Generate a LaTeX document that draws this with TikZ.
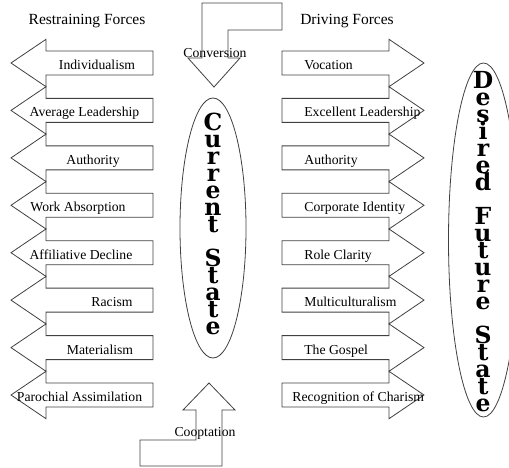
\documentclass[tikz,border=0pt]{standalone}
\usepackage{fontspec}
\setmainfont{Liberation Serif}
\newfontfamily\slabfont{DejaVu Serif}
\setlength{\lineskiplimit}{-30pt}

\tikzset{every picture/.style={line width=0.75pt}}
\tikzset{
  blockarrow/.style={draw=black!75, line width=0.8pt},
  forcelabel/.style={inner sep=0pt, font=\fontsize{13.7}{16}\selectfont},
  headlabel/.style={inner sep=0pt, font=\fontsize{15.5}{18}\selectfont},
  statetext/.style={inner sep=0pt, align=center,
    font=\slabfont\bfseries\fontsize{23.5}{17}\selectfont}
}

\begin{document}
\begin{tikzpicture}[x=1pt,y=1pt,yscale=-1]
    \useasboundingbox (0,0) rectangle (509,468);

    %Shape: Left Arrow (Individualism)
    \draw [blockarrow] (153,51) -- (46,51) -- (46,39.3) -- (11,63) -- (46,86.7) -- (46,75) -- (153,75) -- cycle ;
    %Shape: Left Arrow (Average Leadership)
    \draw [blockarrow] (153,98.4) -- (46,98.4) -- (46,86.7) -- (11,110.4) -- (46,134.1) -- (46,122.4) -- (153,122.4) -- cycle ;
    %Shape: Left Arrow (Authority)
    \draw [blockarrow] (153,145.9) -- (46,145.9) -- (46,134.1) -- (11,157.9) -- (46,181.6) -- (46,169.9) -- (153,169.9) -- cycle ;
    %Shape: Left Arrow (Work Absorption)
    \draw [blockarrow] (153,193.3) -- (46,193.3) -- (46,181.6) -- (11,205.3) -- (46,229) -- (46,217.3) -- (153,217.3) -- cycle ;
    %Shape: Left Arrow (Affiliative Decline)
    \draw [blockarrow] (153,240.7) -- (46,240.7) -- (46,229) -- (11,252.7) -- (46,276.4) -- (46,264.7) -- (153,264.7) -- cycle ;
    %Shape: Left Arrow (Racism)
    \draw [blockarrow] (153,288.1) -- (46,288.1) -- (46,276.4) -- (11,300.1) -- (46,323.9) -- (46,312.1) -- (153,312.1) -- cycle ;
    %Shape: Left Arrow (Materialism)
    \draw [blockarrow] (153,335.6) -- (46,335.6) -- (46,323.9) -- (11,347.6) -- (46,371.3) -- (46,359.6) -- (153,359.6) -- cycle ;
    %Shape: Left Arrow (Parochial Assimilation)
    \draw [blockarrow] (153,383) -- (46,383) -- (46,371.3) -- (11,395) -- (46,418.7) -- (46,407) -- (153,407) -- cycle ;

    %Shape: Right Arrow (Vocation)
    \draw [blockarrow] (282,51) -- (389,51) -- (389,39.3) -- (424,63) -- (389,86.7) -- (389,75) -- (282,75) -- cycle ;
    %Shape: Right Arrow (Excellent Leadership)
    \draw [blockarrow] (282,98.4) -- (389,98.4) -- (389,86.7) -- (424,110.4) -- (389,134.1) -- (389,122.4) -- (282,122.4) -- cycle ;
    %Shape: Right Arrow (Authority)
    \draw [blockarrow] (282,145.9) -- (389,145.9) -- (389,134.1) -- (424,157.9) -- (389,181.6) -- (389,169.9) -- (282,169.9) -- cycle ;
    %Shape: Right Arrow (Corporate Identity)
    \draw [blockarrow] (282,193.3) -- (389,193.3) -- (389,181.6) -- (424,205.3) -- (389,229) -- (389,217.3) -- (282,217.3) -- cycle ;
    %Shape: Right Arrow (Role Clarity)
    \draw [blockarrow] (282,240.7) -- (389,240.7) -- (389,229) -- (424,252.7) -- (389,276.4) -- (389,264.7) -- (282,264.7) -- cycle ;
    %Shape: Right Arrow (Multiculturalism)
    \draw [blockarrow] (282,288.1) -- (389,288.1) -- (389,276.4) -- (424,300.1) -- (389,323.9) -- (389,312.1) -- (282,312.1) -- cycle ;
    %Shape: Right Arrow (The Gospel)
    \draw [blockarrow] (282,335.6) -- (389,335.6) -- (389,323.9) -- (424,347.6) -- (389,371.3) -- (389,359.6) -- (282,359.6) -- cycle ;
    %Shape: Right Arrow (Recognition of Charism)
    \draw [blockarrow] (282,383) -- (389,383) -- (389,371.3) -- (424,395) -- (389,418.7) -- (389,407) -- (282,407) -- cycle ;

    %Shape: Bent Arrow (Conversion)
    \draw [blockarrow] (282,3) -- (202,3) -- (202,58) -- (188,58) -- (214,87) -- (240,58) -- (228,58) -- (228,30) -- (282,30) -- cycle ;
    %Shape: Bent Arrow (Cooptation)
    \draw [blockarrow] (209,383) -- (235,410) -- (222,410) -- (222,466) -- (140,466) -- (140,440) -- (196,440) -- (196,410) -- (183,410) -- cycle ;

    %Shape: Ellipse [current state]
    \draw [blockarrow] (213,228) ellipse [x radius=33, y radius=130] ;
    %Shape: Ellipse [desired future state]
    \draw [blockarrow] (483.5,240) ellipse [x radius=35, y radius=177] ;

    % Text Node
    \node [headlabel, anchor=base] (restrain) at (87,25) {Restraining Forces};
    % Text Node
    \node [headlabel, anchor=base] (drive) at (347,25) {Driving Forces};
    % Text Node
    \node [forcelabel, anchor=base] (conv) at (215,57.5) {Conversion};
    % Text Node
    \node [forcelabel, anchor=base] (coopt) at (205,436.7) {Cooptation};

    % Text Node
    \node [forcelabel, anchor=base] (l1) at (97,69.5) {Individualism};
    % Text Node
    \node [forcelabel, anchor=base] (l2) at (84.5,116.9) {Average Leadership};
    % Text Node
    \node [forcelabel, anchor=base] (l3) at (93,164.4) {Authority};
    % Text Node
    \node [forcelabel, anchor=base] (l4) at (78,211.8) {Work Absorption};
    % Text Node
    \node [forcelabel, anchor=base] (l5) at (81,259.2) {Affiliative Decline};
    % Text Node
    \node [forcelabel, anchor=base] (l6) at (112,306.6) {Racism};
    % Text Node
    \node [forcelabel, anchor=base] (l7) at (100,354.1) {Materialism};
    % Text Node
    \node [forcelabel, anchor=base] (l8) at (79.5,401.5) {Parochial Assimilation};

    % Text Node
    \node [forcelabel, anchor=base west] (r1) at (304,69.5) {Vocation};
    % Text Node
    \node [forcelabel, anchor=base west] (r2) at (304,116.9) {Excellent Leadership};
    % Text Node
    \node [forcelabel, anchor=base west] (r3) at (304,164.4) {Authority};
    % Text Node
    \node [forcelabel, anchor=base west] (r4) at (304,211.8) {Corporate Identity};
    % Text Node
    \node [forcelabel, anchor=base west] (r5) at (304,259.2) {Role Clarity};
    % Text Node
    \node [forcelabel, anchor=base west] (r6) at (304,306.6) {Multiculturalism};
    % Text Node
    \node [forcelabel, anchor=base west] (r7) at (304,354.1) {The Gospel};
    % Text Node
    \node [forcelabel, anchor=base west] (r8) at (292,401.5) {Recognition of Charism};

    % Text Node
    \node [statetext] (current) at (213,224) {C\\u\\r\\r\\e\\n\\t\\[17pt]S\\t\\a\\t\\e};
    % Text Node
    \node [statetext] (desired) at (483,241.5) {D\\e\\s\\i\\r\\e\\d\\[17pt]F\\u\\t\\u\\r\\e\\[17pt]S\\t\\a\\t\\e};

    \end{tikzpicture}
\end{document}
